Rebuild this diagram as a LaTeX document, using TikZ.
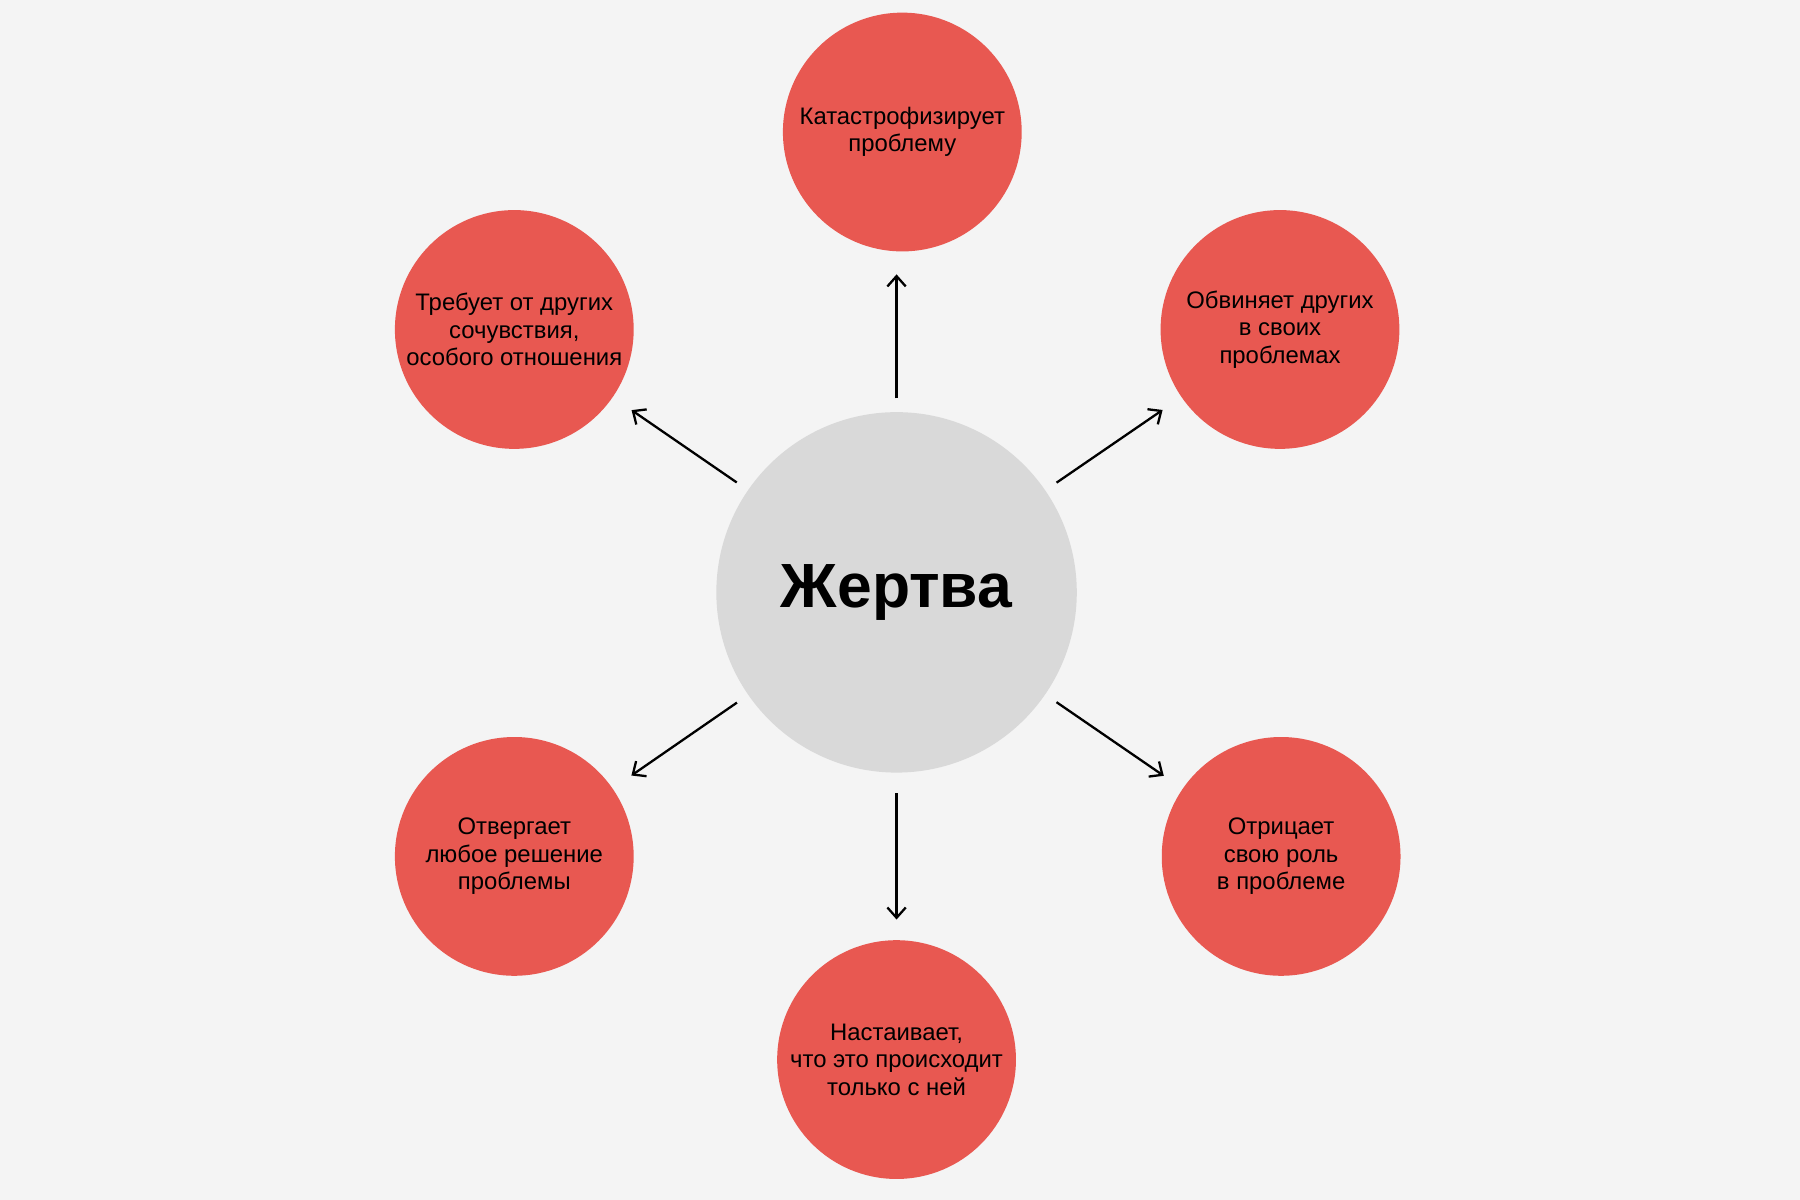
\documentclass[tikz,border=0pt]{standalone}
\usepackage{fontspec}
\setmainfont{Liberation Sans}
\usetikzlibrary{arrows.meta}
\definecolor{bgcol}{HTML}{F4F4F4}
\definecolor{redcol}{HTML}{E85851}
\definecolor{graycol}{HTML}{D9D9D9}
\begin{document}
\begin{tikzpicture}[x=0.5pt,y=-0.5pt,
  outer/.style={circle,fill=redcol,minimum size=104pt,inner sep=0pt,outer sep=0pt,
    align=center,font=\fontsize{10.4}{11.9}\selectfont},
  core/.style={circle,fill=graycol,minimum size=157pt,inner sep=0pt,outer sep=0pt,
    font=\fontsize{27.2}{30}\selectfont\bfseries},
  link/.style={line width=1pt,-{Straight Barb[length=4.5pt,width=8pt,line width=1pt]},
    shorten <=6pt,shorten >=10pt}]
\fill[bgcol] (0,0) rectangle (1568,1045.3);
\useasboundingbox (0,0) rectangle (1568,1045.3);
\node[core] (c) at (781,516) {Жертва};
\node[outer] (t) at (786,115) {Катастрофизирует\\проблему};
\node[outer] (ul) at (448,287) {Требует от других\\сочувствия,\\особого отношения};
\node[outer] (ur) at (1115,287) {Обвиняет других\\в своих\\проблемах};
\node[outer] (ll) at (448,746) {Отвергает\\любое решение\\проблемы};
\node[outer] (lr) at (1116,746) {Отрицает\\свою роль\\в проблеме};
\node[outer] (b) at (781,923) {Настаивает,\\что это происходит\\только с ней};
\draw[link] (c.north) -- (c.north |- t.south);
\draw[link] (c) -- (ul);
\draw[link] (c) -- (ur);
\draw[link] (c) -- (ll);
\draw[link] (c) -- (lr);
\draw[link,shorten <=9pt,shorten >=9pt] (c.south) -- (c.south |- b.north);
\end{tikzpicture}
\end{document}
